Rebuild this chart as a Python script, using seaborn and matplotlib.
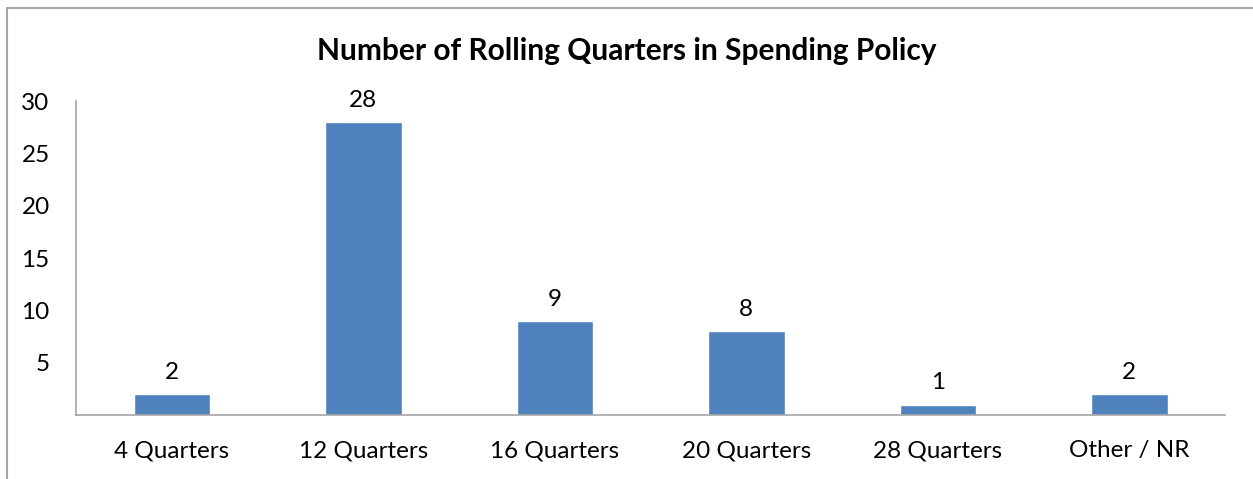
"""
Número de trimestres móviles en la política de gasto
"""

import matplotlib
matplotlib.use('Agg')
import matplotlib.pyplot as plt
import seaborn as sns
import pandas as pd
from matplotlib.lines import Line2D

# Datos
categories = ['4 Quarters', '12 Quarters', '16 Quarters', '20 Quarters', '28 Quarters', 'Other / NR']
counts = [2, 28, 9, 8, 1, 2]
y_ticks = [5, 10, 15, 20, 25, 30]

title = 'Number of Rolling Quarters in Spending Policy'
bar_color = '#4F81BD'
line_color = '#A6A6A6'

sns.set_style('white')
plt.rcParams['font.family'] = ['Lato', 'DejaVu Sans']

df = pd.DataFrame({'category': categories, 'count': counts})

fig = plt.figure(figsize=(12.53, 4.79), dpi=100)
ax = fig.add_axes([0.0607, 0.1336, 0.917, 0.6554])

sns.barplot(data=df, x='category', y='count', color=bar_color, width=0.4,
            saturation=1, ax=ax)

ax.bar_label(ax.containers[0], labels=[str(c) for c in counts],
             padding=8, fontsize=17.5, color='black')

ax.set_ylim(0, 30)
ax.set_xlim(-0.5, len(categories) - 0.5)
ax.set_yticks(y_ticks)
ax.set_yticklabels([str(t) for t in y_ticks])
ax.tick_params(axis='both', length=0, labelsize=17.5, colors='black')
ax.tick_params(axis='y', pad=19)
ax.tick_params(axis='x', pad=18)
ax.set_xlabel('')
ax.set_ylabel('')

for side in ['top', 'right']:
    ax.spines[side].set_visible(False)
for side in ['left', 'bottom']:
    ax.spines[side].set_color(line_color)
    ax.spines[side].set_linewidth(1.2)

fig.text(0.5, 0.893, title, ha='center', va='center',
         fontsize=21.5, fontweight='bold', color='black')

# Borde del área del gráfico
fig.add_artist(Line2D([7 / 1253, 1.0], [1 - 8 / 479, 1 - 8 / 479],
                      transform=fig.transFigure, color=line_color, linewidth=1.5))
fig.add_artist(Line2D([7 / 1253, 7 / 1253], [0.0, 1 - 8 / 479],
                      transform=fig.transFigure, color=line_color, linewidth=1.5))

fig.savefig('out.png', dpi=100)
